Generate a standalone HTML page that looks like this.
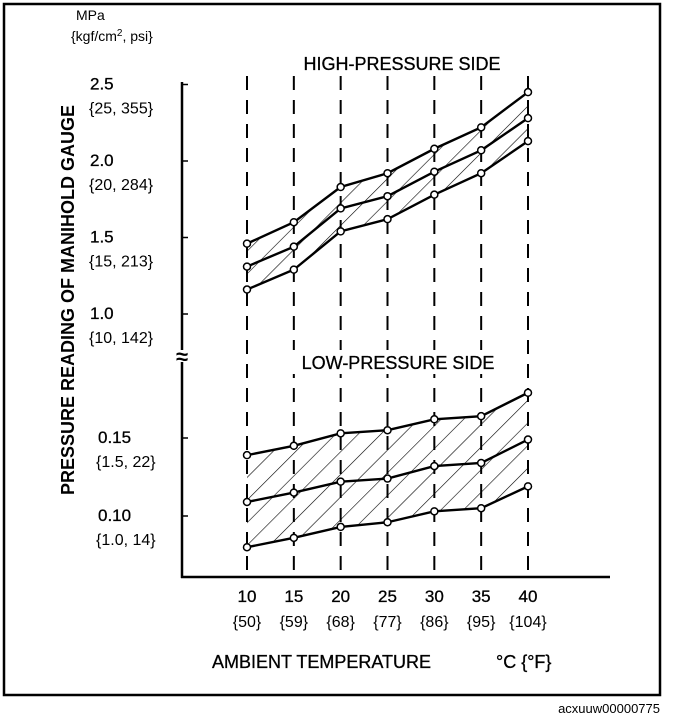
<!DOCTYPE html>
<html><head><meta charset="utf-8"><style>
body{margin:0;background:#fff;}
svg{display:block;font-family:"Liberation Sans",Arial,sans-serif;}
</style></head><body>
<svg width="688" height="720" viewBox="0 0 688 720">
<defs>
<pattern id="hatch" patternUnits="userSpaceOnUse" width="16" height="16" patternTransform="rotate(45)">
<line x1="0" y1="0" x2="0" y2="16" stroke="#000" stroke-width="1.2"/>
</pattern>
</defs>
<rect x="4" y="4" width="656" height="691" fill="none" stroke="#000" stroke-width="2.5"/>
<text x="660" y="713" font-size="13" text-anchor="end">acxuuw00000775</text>
<g id="plot"></g>
<text x="76" y="20" font-size="14">MPa</text>
<text x="71" y="41" font-size="14">{kgf/cm<tspan dy="-5" font-size="10">2</tspan><tspan dy="5">, psi}</tspan></text>
<text transform="translate(74,300) rotate(-90)" font-size="18" font-weight="bold" text-anchor="middle">PRESSURE READING OF MANIHOLD GAUGE</text>
<rect x="282" y="51" width="240" height="24" fill="#fff"/>
<text x="402" y="70" font-size="18" text-anchor="middle" stroke="#000" stroke-width="0.3">HIGH-PRESSURE SIDE</text>
<rect x="280" y="350" width="238" height="24" fill="#fff"/>
<text x="398" y="369" font-size="18" text-anchor="middle" stroke="#000" stroke-width="0.3">LOW-PRESSURE SIDE</text>
<text x="212" y="668" font-size="18" stroke="#000" stroke-width="0.3">AMBIENT TEMPERATURE</text>
<text x="496" y="668" font-size="18" stroke="#000" stroke-width="0.3">°C {°F}</text>
</svg>
<script>
const temps=[10,15,20,25,30,35,40];
const tempsF=["{50}","{59}","{68}","{77}","{86}","{95}","{104}"];
const highTicks=[2.5,2.0,1.5,1.0];
const highTickAlt=["{25, 355}","{20, 284}","{15, 213}","{10, 142}"];
const lowTicks=[0.15,0.10];
const lowTickAlt=["{1.5, 22}","{1.0, 14}"];
const highUpper=[1.46,1.60,1.83,1.92,2.08,2.22,2.45];
const highMid=[1.31,1.44,1.69,1.77,1.93,2.07,2.28];
const highLower=[1.16,1.29,1.54,1.62,1.78,1.92,2.13];
const lowUpper=[0.139,0.145,0.153,0.155,0.162,0.164,0.179];
const lowMid=[0.109,0.115,0.122,0.124,0.132,0.134,0.149];
const lowLower=[0.080,0.086,0.093,0.096,0.103,0.105,0.119];

const NS="http://www.w3.org/2000/svg";
const g=document.getElementById('plot');
const xS=t=>247+(t-10)*(281/30);
const yH=v=>314-(v-1.0)*153;
const yL=v=>516-(v-0.10)*1560;
function mk(tag,attrs){const e=document.createElementNS(NS,tag);for(const k in attrs)e.setAttribute(k,attrs[k]);g.appendChild(e);return e;}

let e=mk('line',{x1:182,y1:82,x2:182,y2:578,stroke:'#000','stroke-width':2.5});


e=mk('line',{x1:181,y1:577,x2:610,y2:577,stroke:'#000','stroke-width':2.5});


e=mk('rect',{x:176,y:350,width:12,height:12,fill:'#fff'});


e=mk('text',{x:182,y:364,'font-size':22,'font-weight':'bold','text-anchor':'middle'});
e.textContent='≈';



temps.forEach((t,i)=>{
  let l=mk('line',{x1:xS(t),y1:76,x2:xS(t),y2:577,stroke:'#000','stroke-width':2,'stroke-dasharray':'14,10'});
  
  
  let tx=mk('text',{x:xS(t),y:602,'font-size':17,'text-anchor':'middle',stroke:'#000','stroke-width':0.3});tx.textContent=t;
  
  
  let tf=mk('text',{x:xS(t),y:627,'font-size':16,'text-anchor':'middle'});tf.textContent=tempsF[i];
  
  
});

function ticks(arr,alt,ys){arr.forEach((v,i)=>{
  const y=ys(v);
  let l=mk('line',{x1:182,y1:y,x2:188,y2:y,stroke:'#000','stroke-width':1.5});
  
  
  let t=mk('text',{x:v<1?98:90,y:y+5,'font-size':17,stroke:'#000','stroke-width':0.3});t.textContent=v<1?v.toFixed(2):v.toFixed(1);
  
  
  let a=mk('text',{x:v<1?96:89,y:y+29,'font-size':16});a.textContent=alt[i];
  
  
});}
ticks(highTicks,highTickAlt,yH);
ticks(lowTicks,lowTickAlt,yL);

function band(up,lo,ys,name){
  const pts=temps.map((t,i)=>xS(t)+','+ys(up[i])).concat(temps.slice().reverse().map((t,j)=>{const i=temps.length-1-j;return xS(t)+','+ys(lo[i]);}));
  let p=mk('polygon',{points:pts.join(' '),fill:'url(#hatch)',stroke:'none'});
  
  
}
band(highUpper,highLower,yH,'high-pressure-range');
band(lowUpper,lowLower,yL,'low-pressure-range');

function series(vals,ys,name){
  let p=mk('polyline',{points:temps.map((t,i)=>xS(t)+','+ys(vals[i])).join(' '),fill:'none',stroke:'#000','stroke-width':2.4});
  
  
  temps.forEach((t,i)=>{
    let c=mk('circle',{cx:xS(t),cy:ys(vals[i]),r:3.5,fill:'#fff',stroke:'#000','stroke-width':1.5});
    
    
  });
}
series(highUpper,yH,'high-upper-line');
series(highMid,yH,'high-mid-line');
series(highLower,yH,'high-lower-line');
series(lowUpper,yL,'low-upper-line');
series(lowMid,yL,'low-mid-line');
series(lowLower,yL,'low-lower-line');
</script>
</body></html>
